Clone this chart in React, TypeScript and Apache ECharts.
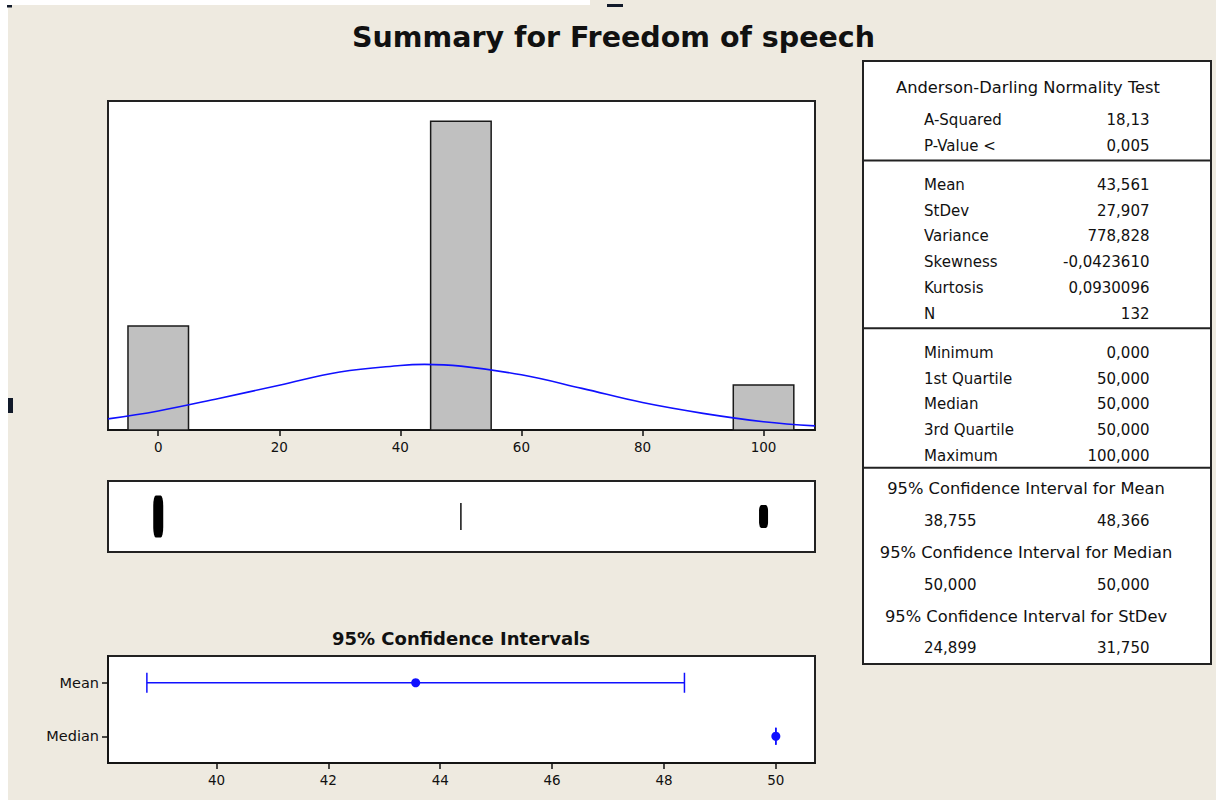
import React, { useEffect, useRef } from 'react';
import * as echarts from 'echarts';

// ---------- data ----------
const binLow = [-5, 45, 95];
const binHigh = [5, 55, 105];
const binCount = [30, 89, 13];
// fitted normal curve (counts per bin)
const curveX = [-8.3, 0, 10, 20, 30, 40, 44, 50, 60, 70, 80, 90, 100, 108.5];
const curveY = [3.2, 5.5, 9.1, 12.9, 16.7, 18.6, 18.9, 18.4, 15.9, 12.0, 7.9, 4.8, 2.4, 1.2];
const histTicks = [0, 20, 40, 60, 80, 100];
const boxStats = [50, 50, 50, 50, 50];
const outlierValues = [0, 100];
const ciLabels = ['Mean', 'Median'];
const ciLow = [38.755, 50.0];
const ciEst = [43.561, 50.0];
const ciHigh = [48.366, 50.0];
const ciTicks = [40, 42, 44, 46, 48, 50];
const adLabels = ['A-Squared', 'P-Value <'];
const adValues = ['18,13', '0,005'];
const descLabels = ['Mean', 'StDev', 'Variance', 'Skewness', 'Kurtosis', 'N'];
const descValues = ['43,561', '27,907', '778,828', '-0,0423610', '0,0930096', '132'];
const quartLabels = ['Minimum', '1st Quartile', 'Median', '3rd Quartile', 'Maximum'];
const quartValues = ['0,000', '50,000', '50,000', '50,000', '100,000'];
const intervalTitles = [
  '95% Confidence Interval for Mean',
  '95% Confidence Interval for Median',
  '95% Confidence Interval for StDev',
];
const intervalLow = ['38,755', '50,000', '24,899'];
const intervalHigh = ['48,366', '50,000', '31,750'];

// ---------- style ----------
const FONT = "'DejaVu Sans', Verdana, sans-serif";
const BLUE = '#1010FF';
const INK = '#111';
const outlierSizes = [[10, 42], [9, 23]];

function txt(text: string, x: number, y: number, align: string, size = 15, weight = 'normal') {
  return {
    type: 'text',
    x,
    y,
    style: {
      text,
      font: `${weight} ${size}px ${FONT}`,
      fill: INK,
      textAlign: align,
      textVerticalAlign: 'middle',
      align,
      verticalAlign: 'middle',
    },
  };
}

function buildGraphic() {
  const els: any[] = [];
  // screenshot edges
  els.push({ type: 'rect', shape: { x: 0, y: 0, width: 8, height: 800 }, style: { fill: '#fff' } });
  els.push({ type: 'rect', shape: { x: 0, y: 0, width: 590, height: 5 }, style: { fill: '#fff' } });
  els.push({ type: 'rect', shape: { x: 7, y: 5, width: 5, height: 2.5 }, style: { fill: '#111a2a' } });
  els.push({ type: 'rect', shape: { x: 607, y: 4, width: 16, height: 3 }, style: { fill: '#111a2a' } });
  els.push({ type: 'rect', shape: { x: 8, y: 398, width: 5, height: 15 }, style: { fill: '#111a2a' } });

  els.push(txt('Summary for Freedom of speech', 613.5, 37, 'center', 28.5, 'bold'));
  els.push(txt('95% Confidence Intervals', 461, 638, 'center', 18, 'bold'));

  // table
  const tx = 863, ty = 61, tw = 348, th = 603;
  els.push({ type: 'rect', shape: { x: tx, y: ty, width: tw, height: th }, style: { fill: '#fff', stroke: '#222', lineWidth: 2 } });
  [160.5, 328.3, 467.7].forEach((y) =>
    els.push({ type: 'line', shape: { x1: tx, y1: y, x2: tx + tw, y2: y }, style: { stroke: '#222', lineWidth: 2 } })
  );
  const labelX = 924, valueX = 1149.5, centerX = 1026;
  els.push(txt('Anderson-Darling Normality Test', 1028, 87.5, 'center', 16.3));
  adLabels.forEach((l, i) => {
    els.push(txt(l, labelX, 120 + i * 25.5, 'left'));
    els.push(txt(adValues[i], valueX, 120 + i * 25.5, 'right'));
  });
  descLabels.forEach((l, i) => {
    els.push(txt(l, labelX, 185 + i * 25.7, 'left'));
    els.push(txt(descValues[i], valueX, 185 + i * 25.7, 'right'));
  });
  quartLabels.forEach((l, i) => {
    els.push(txt(l, labelX, 352.7 + i * 25.8, 'left'));
    els.push(txt(quartValues[i], valueX, 352.7 + i * 25.8, 'right'));
  });
  intervalTitles.forEach((t, i) => {
    els.push(txt(t, centerX, 488.3 + i * 63.9, 'center', 16.3));
    els.push(txt(intervalLow[i], labelX, 521 + i * 63.7, 'left'));
    els.push(txt(intervalHigh[i], valueX, 521 + i * 63.7, 'right'));
  });
  return els;
}

const gridStyle = { show: true, backgroundColor: '#fff', borderColor: '#222', borderWidth: 2 };
const axisLineStyle = { show: true, lineStyle: { color: INK, width: 1.5 } };

function buildOption(): any {
  return {
    animation: false,
    backgroundColor: '#EEEAE0',
    grid: [
      { left: 108, top: 101, width: 707, height: 329, ...gridStyle },
      { left: 108, top: 481, width: 707, height: 71, ...gridStyle },
      { left: 108, top: 656, width: 707, height: 107, ...gridStyle },
    ],
    xAxis: [
      {
        type: 'value', gridIndex: 0, min: -8.3, max: 108.5,
        axisLine: axisLineStyle,
        axisTick: { show: true, customValues: histTicks, length: 6, lineStyle: { color: INK, width: 1.5 } },
        axisLabel: { customValues: histTicks, margin: 10, fontSize: 13.5, color: INK, fontFamily: FONT },
        splitLine: { show: false },
      },
      { type: 'value', gridIndex: 1, min: -8.3, max: 108.5, show: false, splitLine: { show: false } },
      {
        type: 'value', gridIndex: 2, min: 38.06, max: 50.7,
        axisLine: axisLineStyle,
        axisTick: { show: true, customValues: ciTicks, length: 6, lineStyle: { color: INK, width: 1.5 } },
        axisLabel: { customValues: ciTicks, margin: 10, fontSize: 13.5, color: INK, fontFamily: FONT },
        splitLine: { show: false },
      },
    ],
    yAxis: [
      { type: 'value', gridIndex: 0, min: 0, max: 94.8, show: false, splitLine: { show: false } },
      { type: 'category', gridIndex: 1, data: ['box'], show: false },
      {
        type: 'category', gridIndex: 2, data: ciLabels, inverse: true,
        axisLine: axisLineStyle,
        axisTick: { show: true, alignWithLabel: true, length: 6, lineStyle: { color: INK, width: 1.5 } },
        axisLabel: { margin: 9, fontSize: 14.5, color: INK, fontFamily: FONT },
      },
    ],
    series: [
      {
        type: 'custom', name: 'Histogram', xAxisIndex: 0, yAxisIndex: 0, z: 2,
        data: binLow.map((lo, i) => [lo, binHigh[i], binCount[i]]),
        encode: { x: [0, 1], y: 2 },
        renderItem: (_p: any, api: any) => {
          const tl = api.coord([api.value(0), api.value(2)]);
          const br = api.coord([api.value(1), 0]);
          return {
            type: 'rect',
            shape: { x: tl[0], y: tl[1], width: br[0] - tl[0], height: br[1] - tl[1] },
            style: { fill: '#C0C0C0', stroke: '#1a1a1a', lineWidth: 1.5 },
          };
        },
      },
      {
        type: 'line', name: 'Normal fit', xAxisIndex: 0, yAxisIndex: 0, z: 3,
        data: curveX.map((x, i) => [x, curveY[i]]),
        smooth: 0.4, symbol: 'none',
        lineStyle: { color: BLUE, width: 1.6 },
      },
      {
        type: 'boxplot', xAxisIndex: 1, yAxisIndex: 1,
        data: [boxStats], boxWidth: [27, 27],
        itemStyle: { color: '#fff', borderColor: INK, borderWidth: 1.5 },
      },
      {
        type: 'scatter', xAxisIndex: 1, yAxisIndex: 1, symbol: 'roundRect',
        data: outlierValues.map((v, i) => ({ value: [v, 0], symbolSize: outlierSizes[i] })),
        itemStyle: { color: '#000', opacity: 1 },
      },
      {
        type: 'custom', name: 'CI', xAxisIndex: 2, yAxisIndex: 2, z: 3,
        data: ciLabels.map((_, i) => [ciLow[i], ciEst[i], ciHigh[i], i]),
        encode: { x: [0, 1, 2], y: 3 },
        renderItem: (_p: any, api: any) => {
          const cat = api.value(3);
          const a = api.coord([api.value(0), cat]);
          const b = api.coord([api.value(1), cat]);
          const c = api.coord([api.value(2), cat]);
          const cap = cat === 0 ? 10 : 8.5;
          const ls = { stroke: BLUE, lineWidth: 1.5 };
          return {
            type: 'group',
            children: [
              { type: 'line', shape: { x1: a[0], y1: a[1], x2: c[0], y2: c[1] }, style: ls },
              { type: 'line', shape: { x1: a[0], y1: a[1] - cap, x2: a[0], y2: a[1] + cap }, style: ls },
              { type: 'line', shape: { x1: c[0], y1: c[1] - cap, x2: c[0], y2: c[1] + cap }, style: ls },
              { type: 'circle', shape: { cx: b[0], cy: b[1], r: 4.5 }, style: { fill: BLUE } },
            ],
          };
        },
      },
    ],
    graphic: { elements: buildGraphic() },
  };
}

export default function App() {
  const ref = useRef<HTMLDivElement>(null);
  useEffect(() => {
    if (!ref.current) return;
    const chart = echarts.init(ref.current, null, { renderer: 'svg' });
    chart.setOption(buildOption());
    return () => chart.dispose();
  }, []);
  return (
    <div
      ref={ref}
      style={{ position: 'absolute', left: 0, top: 0, width: 1216, height: 800 }}
    />
  );
}
